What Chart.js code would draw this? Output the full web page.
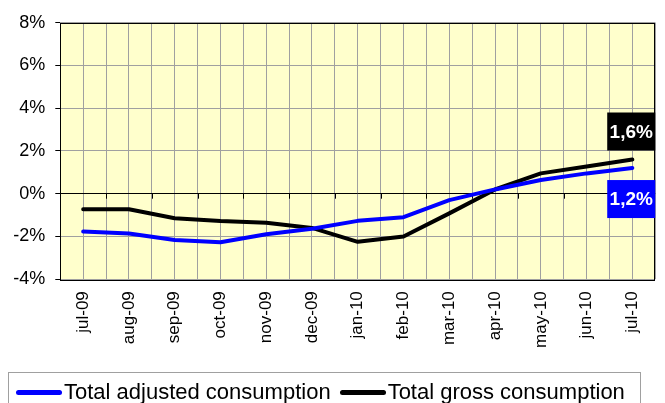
<!DOCTYPE html>
<html>
<head>
<meta charset="utf-8">
<script src="https://cdn.jsdelivr.net/npm/chart.js@4.4.1/dist/chart.umd.min.js"></script>
<style>
    body { margin: 0; background: #fff; }
    #wrap { position: relative; width: 665px; height: 403px; overflow: hidden; }
    #legend {
        position: absolute; left: 8px; top: 372px; width: 633px; height: 40px;
        border: 1px solid #a0a0a0; box-sizing: border-box;
        display: flex; align-items: flex-start; padding: 6px 0 0 7px;
        font-family: Arial, "Liberation Sans", sans-serif; font-size: 22px; color: #000;
        white-space: nowrap;
    }
    #legend .item { display: flex; align-items: center; margin-right: 9px; }
    #legend .mark { width: 46px; height: 5px; border-radius: 3px; margin-right: 2px; }
</style>
</head>
<body>
<div id="wrap">
    <canvas id="consumptionChart"></canvas>
    <div id="legend"></div>
</div>
<script>
const months = ['jul-09', 'aug-09', 'sep-09', 'oct-09', 'nov-09', 'dec-09', 'jan-10',
    'feb-10', 'mar-10', 'apr-10', 'may-10', 'jun-10', 'jul-10'];
const adjusted = [-1.77, -1.86, -2.17, -2.27, -1.9, -1.64, -1.27, -1.1, -0.3, 0.2, 0.64, 0.95, 1.2];
const gross = [-0.73, -0.73, -1.15, -1.28, -1.36, -1.6, -2.25, -2.0, -0.92, 0.2, 0.95, 1.27, 1.6];
const seriesNames = ['Total adjusted consumption', 'Total gross consumption'];
const seriesColors = ['#0000ff', '#000000'];

const FONT = "Arial, 'Liberation Sans', sans-serif";

// plot background, border, ticks on the zero line, end value boxes
const plotDecor = {
    id: 'plotDecor',
    beforeDraw(chart) {
        const { ctx, chartArea: a } = chart;
        ctx.save();
        ctx.fillStyle = '#ffffcc';
        ctx.fillRect(a.left, a.top, a.width, a.height);
        ctx.restore();
    },
    beforeDatasetsDraw(chart) {
        const { ctx, chartArea: a, scales } = chart;
        const y0 = scales.y.getPixelForValue(0);
        ctx.save();
        ctx.strokeStyle = '#000';
        ctx.lineWidth = 1;
        ctx.beginPath();
        for (let i = 1; i < months.length; i++) {
            const x = Math.round(scales.xg.getPixelForValue(i - 0.5)) + 0.5;
            ctx.moveTo(x, y0);
            ctx.lineTo(x, y0 + 5);
        }
        ctx.stroke();
        ctx.strokeRect(Math.round(a.left) + 0.5, Math.round(a.top) + 0.5,
            Math.round(a.width) - 1, Math.round(a.height));
        ctx.restore();
    },
    afterDatasetsDraw(chart) {
        const { ctx, chartArea: a } = chart;
        const offsets = [31, -28];
        ctx.save();
        chart.data.datasets.forEach((ds, i) => {
            const meta = chart.getDatasetMeta(i);
            const pt = meta.data[meta.data.length - 1];
            const val = ds.data[ds.data.length - 1];
            const w = 48, h = 38;
            const cy = pt.y + offsets[i];
            ctx.fillStyle = ds.borderColor;
            ctx.fillRect(a.right - w, cy - h / 2, w, h);
            ctx.fillStyle = '#fff';
            ctx.font = 'bold 19px ' + FONT;
            ctx.textAlign = 'center';
            ctx.textBaseline = 'middle';
            ctx.fillText(val.toFixed(1).replace('.', ',') + '%', a.right - w / 2, cy + 1);
        });
        ctx.restore();
    }
};

const chart = new Chart(document.getElementById('consumptionChart'), {
    type: 'line',
    data: {
        labels: months,
        datasets: [
            {
                label: seriesNames[0],
                data: adjusted,
                borderColor: seriesColors[0],
                backgroundColor: seriesColors[0],
                borderWidth: 4,
                pointRadius: 0,
                tension: 0,
                borderJoinStyle: 'round',
                borderCapStyle: 'round'
            },
            {
                label: seriesNames[1],
                data: gross,
                borderColor: seriesColors[1],
                backgroundColor: seriesColors[1],
                borderWidth: 4,
                pointRadius: 0,
                tension: 0,
                borderJoinStyle: 'round',
                borderCapStyle: 'round'
            }
        ]
    },
    options: {
        responsive: true,
        maintainAspectRatio: false,
        animation: false,
        layout: {
            padding: { top: 22.7, right: 6.7, bottom: 0, left: 0 }
        },
        plugins: {
            legend: { display: false },
            tooltip: { enabled: false }
        },
        scales: {
            x: {
                type: 'category',
                offset: true,
                grid: { display: false, drawTicks: false },
                border: { display: false },
                ticks: {
                    autoSkip: false,
                    maxRotation: 90,
                    minRotation: 90,
                    padding: 12,
                    color: '#000',
                    font: { family: FONT, size: 17 }
                },
                afterFit(scale) { scale.height = 123.8; }
            },
            xg: {
                type: 'linear',
                position: 'bottom',
                min: -0.5,
                max: months.length - 0.5,
                ticks: { display: false, stepSize: 0.5 },
                grid: { color: '#a0a0a0', drawTicks: false, lineWidth: 1 },
                border: { display: false },
                afterFit(scale) { scale.height = 0; }
            },
            y: {
                min: -4,
                max: 8,
                ticks: {
                    stepSize: 2,
                    padding: 10,
                    color: '#000',
                    font: { family: FONT, size: 18 },
                    callback: v => v + '%'
                },
                grid: {
                    color: c => (c.tick && c.tick.value === 0) ? '#000' : '#a0a0a0',
                    tickColor: '#000',
                    tickLength: 5
                },
                border: { display: false },
                afterFit(scale) { scale.width = 60.3; }
            }
        }
    },
    plugins: [plotDecor]
});

// html legend built from the datasets
const legendEl = document.getElementById('legend');
chart.data.datasets.forEach(ds => {
    const item = document.createElement('span');
    item.className = 'item';
    const mark = document.createElement('span');
    mark.className = 'mark';
    mark.style.background = ds.borderColor;
    const txt = document.createElement('span');
    txt.textContent = ds.label;
    item.appendChild(mark);
    item.appendChild(txt);
    legendEl.appendChild(item);
});
</script>
</body>
</html>
